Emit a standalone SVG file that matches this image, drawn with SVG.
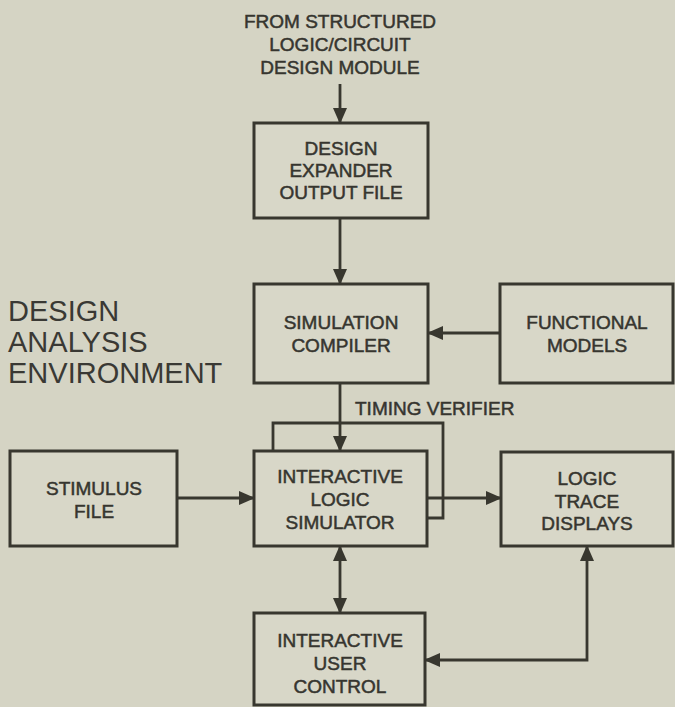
<svg xmlns="http://www.w3.org/2000/svg" width="675" height="707" viewBox="0 0 675 707">
  <defs>
    <marker id="arrow" viewBox="0 0 16 14" refX="15" refY="7" markerWidth="16" markerHeight="14" markerUnits="userSpaceOnUse" orient="auto-start-reverse">
      <path d="M0,0 L16,7 L0,14 Z" fill="#38372f"/>
    </marker>
  </defs>
  <style>
    .box{fill:#d8d7c8;stroke:#38372f;stroke-width:3}
    .lbl{font-family:"Liberation Sans",Arial,sans-serif;font-size:19px;fill:#36352f;text-anchor:middle;stroke:#36352f;stroke-width:0.5}
    .title{font-family:"Liberation Sans",Arial,sans-serif;font-size:29px;fill:#3a3934}
    .conn{fill:none;stroke:#38372f;stroke-width:2.8}
  </style>
  <rect width="675" height="707" fill="#d5d4c4"/>

  <!-- side heading -->
  <g id="heading">
    <text class="title" x="8" y="321">DESIGN</text>
    <text class="title" x="8" y="352">ANALYSIS</text>
    <text class="title" x="8" y="383">ENVIRONMENT</text>
  </g>

  <!-- source note above the first box -->
  <g id="source">
    <text class="lbl" x="340" y="28">FROM STRUCTURED</text>
    <text class="lbl" x="340" y="51">LOGIC/CIRCUIT</text>
    <text class="lbl" x="340" y="74">DESIGN MODULE</text>
  </g>

  <g id="design-expander">
    <rect class="box" x="254" y="123" width="174" height="95"/>
    <text class="lbl" x="341" y="155">DESIGN</text>
    <text class="lbl" x="341" y="177">EXPANDER</text>
    <text class="lbl" x="341" y="199">OUTPUT FILE</text>
  </g>

  <g id="simulation-compiler">
    <rect class="box" x="254" y="284" width="174" height="99"/>
    <text class="lbl" x="341" y="329">SIMULATION</text>
    <text class="lbl" x="341" y="352">COMPILER</text>
  </g>

  <g id="functional-models">
    <rect class="box" x="500" y="284" width="173" height="99"/>
    <text class="lbl" x="587" y="329">FUNCTIONAL</text>
    <text class="lbl" x="587" y="352">MODELS</text>
  </g>

  <g id="stimulus-file">
    <rect class="box" x="10" y="451" width="167" height="95"/>
    <text class="lbl" x="94" y="495">STIMULUS</text>
    <text class="lbl" x="94" y="518">FILE</text>
  </g>

  <g id="logic-simulator">
    <rect class="box" x="254" y="451" width="173" height="95"/>
    <text class="lbl" x="340" y="483">INTERACTIVE</text>
    <text class="lbl" x="340" y="506">LOGIC</text>
    <text class="lbl" x="340" y="529">SIMULATOR</text>
  </g>

  <g id="logic-trace">
    <rect class="box" x="501" y="452" width="172" height="94"/>
    <text class="lbl" x="587" y="485">LOGIC</text>
    <text class="lbl" x="587" y="508">TRACE</text>
    <text class="lbl" x="587" y="530">DISPLAYS</text>
  </g>

  <g id="user-control">
    <rect class="box" x="254" y="613" width="171" height="92"/>
    <text class="lbl" x="340" y="647">INTERACTIVE</text>
    <text class="lbl" x="340" y="670">USER</text>
    <text class="lbl" x="340" y="693">CONTROL</text>
  </g>

  <!-- connectors -->
  <g id="connectors">
    <path class="conn" d="M340,84 V123" marker-end="url(#arrow)"/>
    <path class="conn" d="M340,218 V284" marker-end="url(#arrow)"/>
    <path class="conn" d="M500,333 H428" marker-end="url(#arrow)"/>
    <path class="conn" d="M340,383 V451" marker-end="url(#arrow)"/>
    <text class="lbl" x="355" y="415" style="text-anchor:start">TIMING VERIFIER</text>
    <path class="conn" d="M427,518 H443 V423 H273 V451"/>
    <path class="conn" d="M177,498 H254" marker-end="url(#arrow)"/>
    <path class="conn" d="M427,498 H501" marker-end="url(#arrow)"/>
    <path class="conn" d="M340,546 V613" marker-start="url(#arrow)" marker-end="url(#arrow)"/>
    <path class="conn" d="M425,660 H587 V546" marker-start="url(#arrow)" marker-end="url(#arrow)"/>
  </g>
</svg>
